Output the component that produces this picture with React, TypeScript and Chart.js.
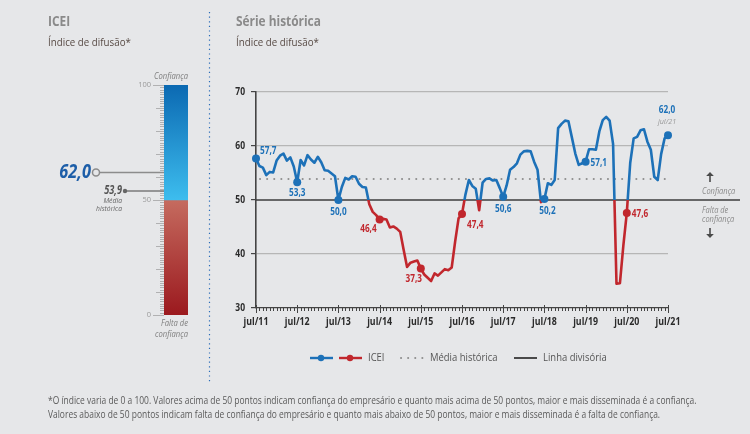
import React, { useEffect, useRef } from 'react';
import { Chart, registerables } from 'chart.js';
Chart.register(...registerables);

// ---------- DATA ----------
const MONTH_NAMES = ['jan', 'fev', 'mar', 'abr', 'mai', 'jun', 'jul', 'ago', 'set', 'out', 'nov', 'dez'];
const START_YEAR = 2011; // series starts in July 2011

const icei2011 = [57.7, 56.3, 56.0, 54.6, 55.2, 55.1];
const icei2012 = [57.3, 58.2, 58.6, 57.3, 57.9, 56.2, 53.3, 57.4, 56.4, 58.3, 57.5, 56.9];
const icei2013 = [58.0, 57.0, 55.5, 55.4, 54.9, 54.4, 50.0, 52.4, 54.1, 53.8, 54.4, 54.3];
const icei2014 = [53.0, 52.4, 52.3, 49.2, 47.8, 47.2, 46.4, 46.5, 46.4, 44.9, 45.1, 44.7];
const icei2015 = [44.1, 40.8, 37.6, 38.4, 38.6, 38.8, 37.3, 36.2, 35.6, 35.0, 36.4, 36.0];
const icei2016 = [36.6, 37.2, 37.0, 37.5, 42.3, 46.6, 47.4, 51.0, 53.7, 52.6, 52.1, 48.1];
const icei2017 = [53.2, 53.9, 54.0, 53.6, 53.7, 52.2, 50.6, 52.7, 55.6, 56.1, 56.8, 58.4];
const icei2018 = [59.0, 59.1, 59.0, 57.1, 55.6, 49.6, 50.2, 53.1, 52.8, 53.7, 63.3, 64.1];
const icei2019 = [64.7, 64.6, 61.6, 58.6, 56.5, 56.8, 57.1, 59.4, 59.4, 59.3, 62.7, 64.8];
const icei2020 = [65.4, 64.7, 60.4, 34.5, 34.6, 41.6, 47.6, 56.9, 61.4, 61.7, 62.9, 63.1];
const icei2021 = [60.8, 59.3, 54.3, 53.7, 58.5, 61.4, 62.0];

const iceiValues: number[] = [
  ...icei2011, ...icei2012, ...icei2013, ...icei2014, ...icei2015, ...icei2016,
  ...icei2017, ...icei2018, ...icei2019, ...icei2020, ...icei2021,
];

const monthLabels: string[] = iceiValues.map((_, i) => {
  const m = (6 + i) % 12;
  const y = START_YEAR + Math.floor((6 + i) / 12);
  return `${MONTH_NAMES[m]}/${String(y).slice(2)}`;
});

const xTickLabels = ['jul/11', 'jul/12', 'jul/13', 'jul/14', 'jul/15', 'jul/16', 'jul/17', 'jul/18', 'jul/19', 'jul/20', 'jul/21'];
const yTicks = [30, 40, 50, 60, 70];
const gaugeTicks = [0, 50, 100];

const HIST_MEAN = 53.9;
const DIVIDE = 50;
const CURRENT = 62.0;
const CURRENT_LABEL = 'jul/21';

// ---------- STYLE ----------
const FONT = "'Open Sans', sans-serif";
const BG = '#e6e7e9';
const BLUE = '#1d71b8';
const RED = '#c1272d';
const DARK = '#3c3c3c';
const GREY_TXT = '#8a8a8a';

const fmt = (v: number) => v.toFixed(1).replace('.', ',');

// condensed text helper (horizontal squeeze)
function txt(ctx: CanvasRenderingContext2D, s: string, x: number, y: number, align: CanvasTextAlign, font: string, color: string, sx = 0.82) {
  ctx.save();
  ctx.font = font;
  ctx.fillStyle = color;
  ctx.textAlign = align;
  ctx.textBaseline = 'middle';
  ctx.translate(x, y);
  ctx.scale(sx, 1);
  ctx.fillText(s, 0, 0);
  ctx.restore();
}

export default function App() {
  const leftRef = useRef<HTMLCanvasElement>(null);
  const rightRef = useRef<HTMLCanvasElement>(null);

  useEffect(() => {
    // ---------- gauge (left) ----------
    const gaugePlugin = {
      id: 'gauge',
      afterDatasetsDraw(chart: any) {
        const { ctx, scales } = chart;
        const y = scales.y;
        const barLeft = chart.chartArea.left;
        const barRight = chart.chartArea.right;
        ctx.save();
        ctx.strokeStyle = '#a3a3a3';
        ctx.lineWidth = 0.8;
        for (let v = 0; v <= 100; v++) {
          const py = Math.round(y.getPixelForValue(v)) + 0.5;
          const len = v % 50 === 0 ? 11 : v % 10 === 0 ? 8 : 4;
          ctx.beginPath();
          ctx.moveTo(barLeft - len, py);
          ctx.lineTo(barLeft, py);
          ctx.stroke();
        }
        gaugeTicks.forEach((t) => txt(ctx, String(t), barLeft - 13, y.getPixelForValue(t), 'right', `7.5px ${FONT}`, '#9a9a9a', 1));
        const it = `italic 8.5px ${FONT}`;
        txt(ctx, 'Confiança', barRight, y.getPixelForValue(100) - 8, 'right', it, '#7d7d7d', 0.9);
        txt(ctx, 'Falta de', barRight, y.getPixelForValue(0) + 9, 'right', it, '#7d7d7d', 0.9);
        txt(ctx, 'confiança', barRight, y.getPixelForValue(0) + 20, 'right', it, '#7d7d7d', 0.9);
        // current value marker
        const yc = y.getPixelForValue(CURRENT);
        ctx.strokeStyle = '#8c8c8c';
        ctx.lineWidth = 1.5;
        ctx.beginPath();
        ctx.moveTo(100, yc);
        ctx.lineTo(barLeft, yc);
        ctx.stroke();
        ctx.beginPath();
        ctx.arc(96, yc, 3.5, 0, Math.PI * 2);
        ctx.stroke();
        txt(ctx, fmt(CURRENT), 91, yc, 'right', `italic bold 19px ${FONT}`, '#1d5ea8', 0.86);
        // historical mean marker
        const ym = y.getPixelForValue(HIST_MEAN);
        ctx.strokeStyle = '#7a7a7a';
        ctx.beginPath();
        ctx.moveTo(125, ym);
        ctx.lineTo(barLeft, ym);
        ctx.stroke();
        ctx.fillStyle = '#666';
        ctx.beginPath();
        ctx.arc(125, ym, 2.2, 0, Math.PI * 2);
        ctx.fill();
        txt(ctx, fmt(HIST_MEAN), 122, ym, 'right', `italic bold 11.5px ${FONT}`, '#555', 0.8);
        txt(ctx, 'Média', 122, ym + 10, 'right', `italic 8px ${FONT}`, '#666', 0.85);
        txt(ctx, 'histórica', 122, ym + 18, 'right', `italic 8px ${FONT}`, '#666', 0.85);
        // dotted separator
        ctx.strokeStyle = '#2a6cb8';
        ctx.lineWidth = 1.2;
        ctx.setLineDash([1.2, 3.4]);
        ctx.beginPath();
        ctx.moveTo(209.5, 12);
        ctx.lineTo(209.5, 382);
        ctx.stroke();
        ctx.restore();
      },
    };

    const grad = (top: number, bottom: number, c1: string, c2: string) => (ctx: any) => {
      const chart = ctx.chart;
      if (!chart.chartArea) return c1;
      const y = chart.scales.y;
      const g = chart.ctx.createLinearGradient(0, y.getPixelForValue(top), 0, y.getPixelForValue(bottom));
      g.addColorStop(0, c1);
      g.addColorStop(1, c2);
      return g;
    };

    const left = new Chart(leftRef.current as HTMLCanvasElement, {
      type: 'bar',
      data: {
        labels: ['ICEI'],
        datasets: [
          { data: [[DIVIDE, 100]] as any, backgroundColor: grad(100, DIVIDE, '#0b69b2', '#3dbdee'), borderWidth: 0, barPercentage: 1, categoryPercentage: 1, grouped: false } as any,
          { data: [[0, DIVIDE]] as any, backgroundColor: grad(DIVIDE, 0, '#c56b5f', '#9b191e'), borderWidth: 0, barPercentage: 1, categoryPercentage: 1, grouped: false } as any,
        ],
      },
      options: {
        responsive: false,
        animation: false,
        layout: { padding: { left: 164, right: 24, top: 85, bottom: 119 } },
        scales: { x: { display: false }, y: { display: false, min: 0, max: 100 } },
        plugins: { legend: { display: false }, tooltip: { enabled: false } },
      },
      plugins: [gaugePlugin],
    });

    // ---------- line chart (right) ----------
    const lineColor = (ctx: any) => {
      const chart = ctx.chart;
      const area = chart.chartArea;
      if (!area) return BLUE;
      const y50 = chart.scales.y.getPixelForValue(DIVIDE);
      const g = chart.ctx.createLinearGradient(0, area.top, 0, area.bottom);
      const s = Math.min(1, Math.max(0, (y50 - area.top) / (area.bottom - area.top)));
      g.addColorStop(0, BLUE);
      g.addColorStop(s, BLUE);
      g.addColorStop(s, RED);
      g.addColorStop(1, RED);
      return g;
    };

    const overlay = {
      id: 'overlay',
      beforeDatasetsDraw(chart: any) {
        const { ctx, chartArea, scales } = chart;
        const y = scales.y;
        const x = scales.x;
        ctx.save();
        // historical mean (dotted)
        const ym = y.getPixelForValue(HIST_MEAN);
        ctx.strokeStyle = '#8e8e8e';
        ctx.lineWidth = 2;
        ctx.lineCap = 'round';
        ctx.setLineDash([0.1, 7]);
        ctx.beginPath();
        ctx.moveTo(chartArea.left + 4, ym);
        ctx.lineTo(chartArea.right, ym);
        ctx.stroke();
        ctx.setLineDash([]);
        ctx.lineCap = 'butt';
        // dividing line
        const yd = y.getPixelForValue(DIVIDE);
        ctx.strokeStyle = DARK;
        ctx.lineWidth = 1.4;
        ctx.beginPath();
        ctx.moveTo(chartArea.left, yd);
        ctx.lineTo(740, yd);
        ctx.stroke();
        // x ticks
        ctx.strokeStyle = '#444';
        ctx.lineWidth = 1;
        for (let i = 0; i < iceiValues.length; i++) {
          const px = Math.round(x.getPixelForTick(i)) + 0.5;
          const major = i % 12 === 0;
          ctx.beginPath();
          ctx.moveTo(px, chartArea.bottom - (major ? 3 : 0));
          ctx.lineTo(px, chartArea.bottom + (major ? 5 : 3));
          ctx.stroke();
        }
        // axis tick labels
        const tf = `bold 10.5px ${FONT}`;
        xTickLabels.forEach((lab, k) => {
          txt(ctx, lab, x.getPixelForTick(k * 12), chartArea.bottom + 14, 'center', tf, '#2b2b2b', 0.84);
        });
        yTicks.forEach((v) => {
          txt(ctx, String(v), chartArea.left - 11, y.getPixelForValue(v), 'right', `bold 10px ${FONT}`, '#2b2b2b', 0.85);
        });
        ctx.restore();
      },
      afterDatasetsDraw(chart: any) {
        const { ctx, scales } = chart;
        const x = scales.x;
        const y = scales.y;
        ctx.save();
        const lf = `bold 10px ${FONT}`;
        const place: Record<number, [CanvasTextAlign, number, number]> = {
          0: ['left', 4, -7],
          12: ['center', 0, 11],
          24: ['center', 0, 12],
          36: ['right', -3, 10],
          48: ['center', -7, 11],
          60: ['left', 5, 11],
          72: ['center', 0, 12],
          84: ['center', 3, 12],
          96: ['left', 5, 1],
          108: ['left', 5, 1],
          120: ['center', -1, -25],
        };
        iceiValues.forEach((v, i) => {
          if (i % 12 !== 0) return;
          const [align, dx, dy] = place[i];
          const px = x.getPixelForValue(i);
          const py = y.getPixelForValue(v);
          txt(ctx, fmt(v), px + dx, py + dy, align, lf, v < DIVIDE ? RED : BLUE, 0.82);
          if (i === iceiValues.length - 1) {
            txt(ctx, CURRENT_LABEL, px + dx, py + dy + 12, align, `italic 8px ${FONT}`, '#999', 0.9);
          }
        });
        // right annotations
        const yd = y.getPixelForValue(DIVIDE);
        const af = `italic 9px ${FONT}`;
        txt(ctx, 'Confiança', 702, yd - 9, 'left', af, '#8a8a8a', 0.83);
        txt(ctx, 'Falta de', 702, yd + 10, 'left', af, '#8a8a8a', 0.83);
        txt(ctx, 'confiança', 702, yd + 19, 'left', af, '#8a8a8a', 0.83);
        const arrow = (cx: number, y0: number, y1: number) => {
          const dir = y1 < y0 ? -1 : 1;
          ctx.strokeStyle = '#4a4a4a';
          ctx.fillStyle = '#4a4a4a';
          ctx.lineWidth = 1.6;
          ctx.beginPath();
          ctx.moveTo(cx, y0);
          ctx.lineTo(cx, y1 - dir * 3);
          ctx.stroke();
          ctx.beginPath();
          ctx.moveTo(cx - 3.8, y1 - dir * 4);
          ctx.lineTo(cx, y1);
          ctx.lineTo(cx + 3.8, y1 - dir * 4);
          ctx.closePath();
          ctx.fill();
        };
        arrow(710, yd - 18, yd - 28);
        arrow(710, yd + 28, yd + 38);
        // legend
        const ly = 358;
        ctx.lineWidth = 2.4;
        ctx.strokeStyle = BLUE;
        ctx.beginPath(); ctx.moveTo(310, ly); ctx.lineTo(333, ly); ctx.stroke();
        ctx.fillStyle = BLUE;
        ctx.beginPath(); ctx.arc(321, ly, 3.2, 0, Math.PI * 2); ctx.fill();
        ctx.strokeStyle = RED;
        ctx.beginPath(); ctx.moveTo(339, ly); ctx.lineTo(362, ly); ctx.stroke();
        ctx.fillStyle = RED;
        ctx.beginPath(); ctx.arc(350, ly, 3.2, 0, Math.PI * 2); ctx.fill();
        ctx.strokeStyle = '#8e8e8e';
        ctx.lineWidth = 2;
        ctx.lineCap = 'round';
        ctx.setLineDash([0.1, 7]);
        ctx.beginPath(); ctx.moveTo(401, ly); ctx.lineTo(425, ly); ctx.stroke();
        ctx.setLineDash([]);
        ctx.lineCap = 'butt';
        ctx.strokeStyle = '#4a4a4a';
        ctx.lineWidth = 2;
        ctx.beginPath(); ctx.moveTo(514, ly); ctx.lineTo(537, ly); ctx.stroke();
        const gf = `11px ${FONT}`;
        txt(ctx, 'ICEI', 368, ly, 'left', gf, '#555', 0.86);
        txt(ctx, 'Média histórica', 430, ly, 'left', gf, '#555', 0.86);
        txt(ctx, 'Linha divisória', 543, ly, 'left', gf, '#555', 0.86);
        ctx.restore();
      },
    };

    const right = new Chart(rightRef.current as HTMLCanvasElement, {
      type: 'line',
      data: {
        labels: monthLabels,
        datasets: [
          {
            data: iceiValues,
            borderColor: lineColor as any,
            borderWidth: 2.6,
            borderJoinStyle: 'round',
            tension: 0,
            pointRadius: (c: any) => (c.dataIndex % 12 === 0 ? 4 : 0),
            pointHoverRadius: 0,
            pointBorderWidth: 0,
            pointBackgroundColor: (c: any) => ((c.raw as number) < DIVIDE ? RED : BLUE),
            clip: false as any,
          },
        ],
      },
      options: {
        responsive: false,
        animation: false,
        layout: { padding: { left: 216, right: 82, top: 92, bottom: 104 } },
        plugins: { legend: { display: false }, tooltip: { enabled: false } },
        scales: {
          x: {
            type: 'category',
            offset: false,
            grid: { display: false, drawTicks: false },
            border: { display: true, color: '#444', width: 1.2 },
            ticks: { display: false, autoSkip: false },
            afterFit: (s: any) => { s.height = 22; },
          },
          y: {
            min: yTicks[0],
            max: yTicks[yTicks.length - 1],
            afterBuildTicks: (s: any) => { s.ticks = yTicks.map((v) => ({ value: v })); },
            ticks: { display: false },
            grid: {
              color: (c: any) => (c.tick && (c.tick.value === DIVIDE || c.tick.value === 30) ? 'rgba(0,0,0,0)' : '#b6b6b6'),
              lineWidth: 1.2,
              drawTicks: true,
              tickLength: 5,
              tickColor: '#444',
            },
            border: { display: true, color: '#444', width: 1.6 },
            afterFit: (s: any) => { s.width = 40; },
          },
        },
      },
      plugins: [overlay],
    });

    return () => {
      left.destroy();
      right.destroy();
    };
  }, []);

  const base: React.CSSProperties = { position: 'absolute', fontFamily: FONT, whiteSpace: 'nowrap', margin: 0, transformOrigin: 'left top' };

  return (
    <div style={{ position: 'fixed', left: 0, top: 0, width: 750, height: 434, background: BG, overflow: 'hidden' }}>
      <canvas ref={leftRef} width={212} height={434} style={{ position: 'absolute', left: 0, top: 0 }} />
      <canvas ref={rightRef} width={750} height={434} style={{ position: 'absolute', left: 0, top: 0 }} />
      <div style={{ ...base, left: 48, top: 11, fontSize: 14.5, fontWeight: 'bold', color: GREY_TXT, transform: 'scaleX(0.82)' }}>ICEI</div>
      <div style={{ ...base, left: 48, top: 35, fontSize: 10.5, color: '#574a44', transform: 'scaleX(0.93)' }}>Índice de difusão*</div>
      <div style={{ ...base, left: 236, top: 11, fontSize: 14.5, fontWeight: 'bold', color: GREY_TXT, transform: 'scaleX(0.82)' }}>Série histórica</div>
      <div style={{ ...base, left: 236, top: 35, fontSize: 10.5, color: '#574a44', transform: 'scaleX(0.93)' }}>Índice de difusão*</div>
      <div style={{ ...base, left: 48, top: 393, fontSize: 10, lineHeight: '14px', color: '#5a5a5a', transform: 'scaleX(0.845)' }}>
        *O índice varia de 0 a 100. Valores acima de 50 pontos indicam confiança do empresário e quanto mais acima de 50 pontos, maior e mais disseminada é a confiança.
        <br />
        Valores abaixo de 50 pontos indicam falta de confiança do empresário e quanto mais abaixo de 50 pontos, maior e mais disseminada é a falta de confiança.
      </div>
    </div>
  );
}
